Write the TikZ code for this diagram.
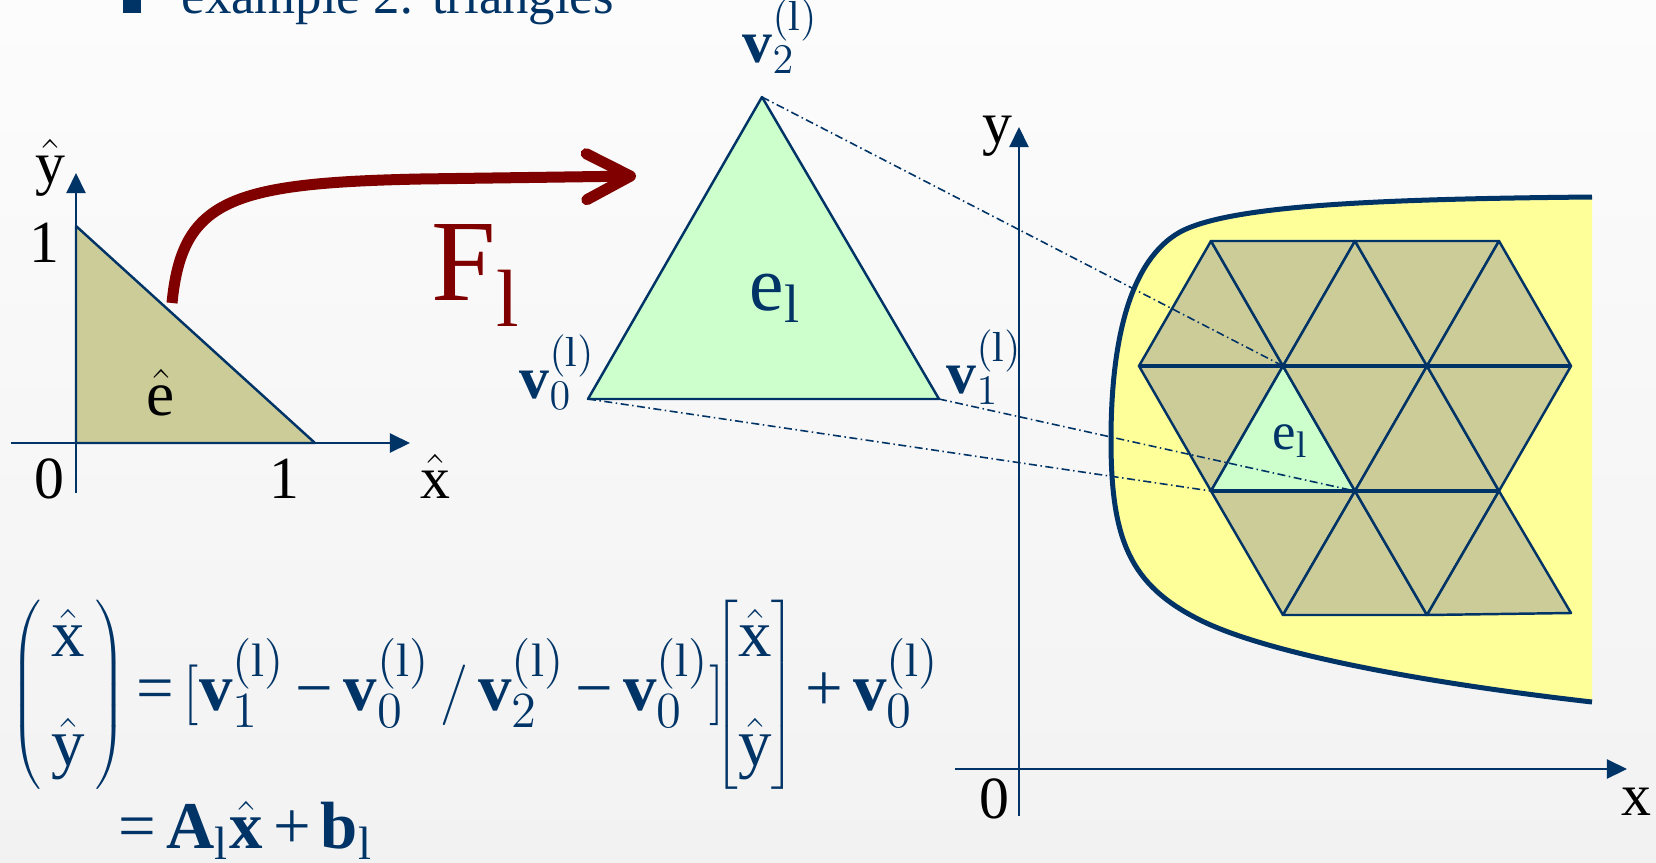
\documentclass[tikz,border=0pt]{standalone}
\usepackage{fontspec}
\setmainfont{Liberation Serif}
\usepackage{tikz}
\usetikzlibrary{arrows.meta}
\definecolor{slideblue}{RGB}{0,51,102}
\definecolor{mapred}{RGB}{128,0,0}
\definecolor{refolive}{RGB}{204,204,153}
\definecolor{elemgreen}{RGB}{204,255,204}
\definecolor{domyellow}{RGB}{255,255,153}
\definecolor{bgtop}{RGB}{252,252,252}
\definecolor{bgbottom}{RGB}{242,242,242}
\newcommand{\releq}{\mathrel{\mbox{=}}}
\newcommand{\binplus}{\mathbin{\mbox{+}}}
\newcommand{\binminus}{\mathbin{\mbox{−}}}

\begin{document}
\begin{tikzpicture}[x=0.01cm, y=-0.01cm,
    axisline/.style={draw=slideblue, line width=0.6pt, -{Triangle[length=2mm,width=1.9mm]}},
    celledge/.style={draw=slideblue, line width=0.7pt, line join=round},
    mapline/.style={draw=slideblue, line width=0.45pt, dash pattern=on 0.8mm off 0.35mm on 0.15mm off 0.35mm},
    maparrow/.style={draw=mapred, line width=1.1mm, -{Straight Barb[round,length=4.4mm,width=4.6mm]}},
    axlabel/.style={inner sep=0pt, anchor=base, font=\fontsize{17}{20}\selectfont},
    vlabel/.style={inner sep=0pt, anchor=base west, text=slideblue, font=\fontsize{17}{20}\selectfont},
    eqline/.style={inner sep=0pt, anchor=base west, text=slideblue, font=\fontsize{19}{23}\selectfont}]
  % background and page size
  \shade[top color=bgtop, bottom color=bgbottom] (0,0) rectangle (1656,863);
  \useasboundingbox (0,0) rectangle (1656,863);
  % title line
  \fill[slideblue] (123,-6) rectangle (141,13);
  \node[anchor=base west, inner sep=0pt, text=slideblue, font=\fontsize{15}{18}\selectfont] (title) at (181,13) {example 2: triangles};

  % reference element
  \filldraw[fill=refolive, celledge] (76,443) -- (76,226) -- (315,443) -- cycle;
  \draw[axisline] (76,493) -- (76,173);
  \draw[axisline] (11,443) -- (410,443);
  \node[axlabel] (yhat) at (50,183) {$\hat{\mathrm{y}}$};
  \node[axlabel] (yone) at (44,262) {1};
  \node[axlabel] (zero) at (49,498) {0};
  \node[axlabel] (xone) at (284,498) {1};
  \node[axlabel] (xhat) at (435,498) {$\hat{\mathrm{x}}$};
  \node[axlabel, font=\fontsize{18}{21}\selectfont] (ehat) at (161,415) {$\hat{\mathrm{e}}$};

  % the map
  \coordinate (fstart) at (172,303);
  \coordinate (ftip) at (636,176);
  \draw[maparrow] (fstart) .. controls (182,200) and (230,183) .. (420,179) -- (ftip);
  \node[anchor=base west, inner sep=0pt, text=mapred, font=\fontsize{33}{38}\selectfont] (fmap) at (431,300) {$\mathrm{F}_{\mathrm{l}}$};

  % element e_l
  \coordinate (v0) at (588,399);
  \coordinate (v1) at (939,399);
  \coordinate (v2) at (762,97);
  \filldraw[fill=elemgreen, celledge] (v0) -- (v1) -- (v2) -- cycle;
  \node[anchor=base west, inner sep=0pt, text=slideblue, font=\fontsize{22}{26}\selectfont] (elem) at (749,310) {$\mathrm{e}_{\mathrm{l}}$};
  \node[vlabel] (v0lab) at (519,398) {$\mathbf{v}_0^{(\mathrm{l})}$};
  \node[vlabel] (v1lab) at (946,393) {$\mathbf{v}_1^{(\mathrm{l})}$};
  \node[vlabel] (v2lab) at (742,62) {$\mathbf{v}_2^{(\mathrm{l})}$};

  % domain
  \fill[domyellow] (1592,197) .. controls (1380,199) and (1230,205) .. (1180,232)
    .. controls (1130,260) and (1111,340) .. (1111,440)
    .. controls (1111,540) and (1130,585) .. (1200,620)
    .. controls (1260,650) and (1400,680) .. (1592,702) -- cycle;
  \draw[slideblue, line width=0.5mm] (1592,197) .. controls (1380,199) and (1230,205) .. (1180,232)
    .. controls (1130,260) and (1111,340) .. (1111,440)
    .. controls (1111,540) and (1130,585) .. (1200,620)
    .. controls (1260,650) and (1400,680) .. (1592,702);
  \draw[axisline] (1019,816) -- (1019,127);
  \draw[axisline] (955,769) -- (1627,769);
  \node[axlabel] (ylab) at (997,143) {y};
  \node[axlabel] (xlab) at (1636,815) {x};
  \node[axlabel] (origin) at (994,818) {0};

  % mesh
  \coordinate (a1) at (1211,241); \coordinate (a3) at (1355,241); \coordinate (a5) at (1499,241);
  \coordinate (b0) at (1139,366); \coordinate (b2) at (1283,366); \coordinate (b4) at (1427,366); \coordinate (b6) at (1571,366);
  \coordinate (c1) at (1211,491); \coordinate (c3) at (1355,491); \coordinate (c5) at (1499,491);
  \coordinate (d2) at (1283,615); \coordinate (d4) at (1427,615); \coordinate (d6) at (1571,613);
  \filldraw[fill=refolive, celledge] (b0) -- (b2) -- (a1) -- cycle;
  \filldraw[fill=refolive, celledge] (a1) -- (a3) -- (b2) -- cycle;
  \filldraw[fill=refolive, celledge] (b2) -- (b4) -- (a3) -- cycle;
  \filldraw[fill=refolive, celledge] (a3) -- (a5) -- (b4) -- cycle;
  \filldraw[fill=refolive, celledge] (b4) -- (b6) -- (a5) -- cycle;
  \filldraw[fill=refolive, celledge] (b0) -- (b2) -- (c1) -- cycle;
  \filldraw[fill=elemgreen, celledge] (c1) -- (c3) -- (b2) -- cycle;
  \filldraw[fill=refolive, celledge] (b2) -- (b4) -- (c3) -- cycle;
  \filldraw[fill=refolive, celledge] (c3) -- (c5) -- (b4) -- cycle;
  \filldraw[fill=refolive, celledge] (b4) -- (b6) -- (c5) -- cycle;
  \filldraw[fill=refolive, celledge] (c1) -- (c3) -- (d2) -- cycle;
  \filldraw[fill=refolive, celledge] (d2) -- (d4) -- (c3) -- cycle;
  \filldraw[fill=refolive, celledge] (c3) -- (c5) -- (d4) -- cycle;
  \filldraw[fill=refolive, celledge] (d4) -- (d6) -- (c5) -- cycle;
  \draw[slideblue, line width=1.1pt] (b0) -- (b6);
  \draw[slideblue, line width=1.2pt] (c1) -- (c5);
  \node[anchor=base west, inner sep=0pt, text=slideblue, font=\fontsize{15}{18}\selectfont] (elemmesh) at (1272,449) {$\mathrm{e}_{\mathrm{l}}$};

  % vertex correspondence
  \draw[mapline] (v2) -- (b2);
  \draw[mapline] (v1) -- (c3);
  \draw[mapline] (v0) -- (c1);

  % formula
  \node[eqline] (mapeq) at (10,710)
    {$\thickmuskip=3mu \medmuskip=3mu \left(\begin{array}{@{\,}c@{\,}}\hat{\mathrm{x}}\\[8pt]\hat{\mathrm{y}}\end{array}\right)\releq\Bigl[\mathbf{v}_1^{(\mathrm{l})}\binminus\mathbf{v}_0^{(\mathrm{l})}\,/\,\mathbf{v}_2^{(\mathrm{l})}\binminus\mathbf{v}_0^{(\mathrm{l})}\Bigr]\!\!\left[\begin{array}{@{}c@{}}\hat{\mathrm{x}}\\[8pt]\hat{\mathrm{y}}\end{array}\right]\binplus\mathbf{v}_0^{(\mathrm{l})}$};
  \node[eqline] (mapeqb) at (118,848)
    {$\thickmuskip=3mu \medmuskip=3mu \releq\mathbf{A}_{\mathrm{l}}\hat{\mathbf{x}}\binplus\mathbf{b}_{\mathrm{l}}$};
\end{tikzpicture}
\end{document}
